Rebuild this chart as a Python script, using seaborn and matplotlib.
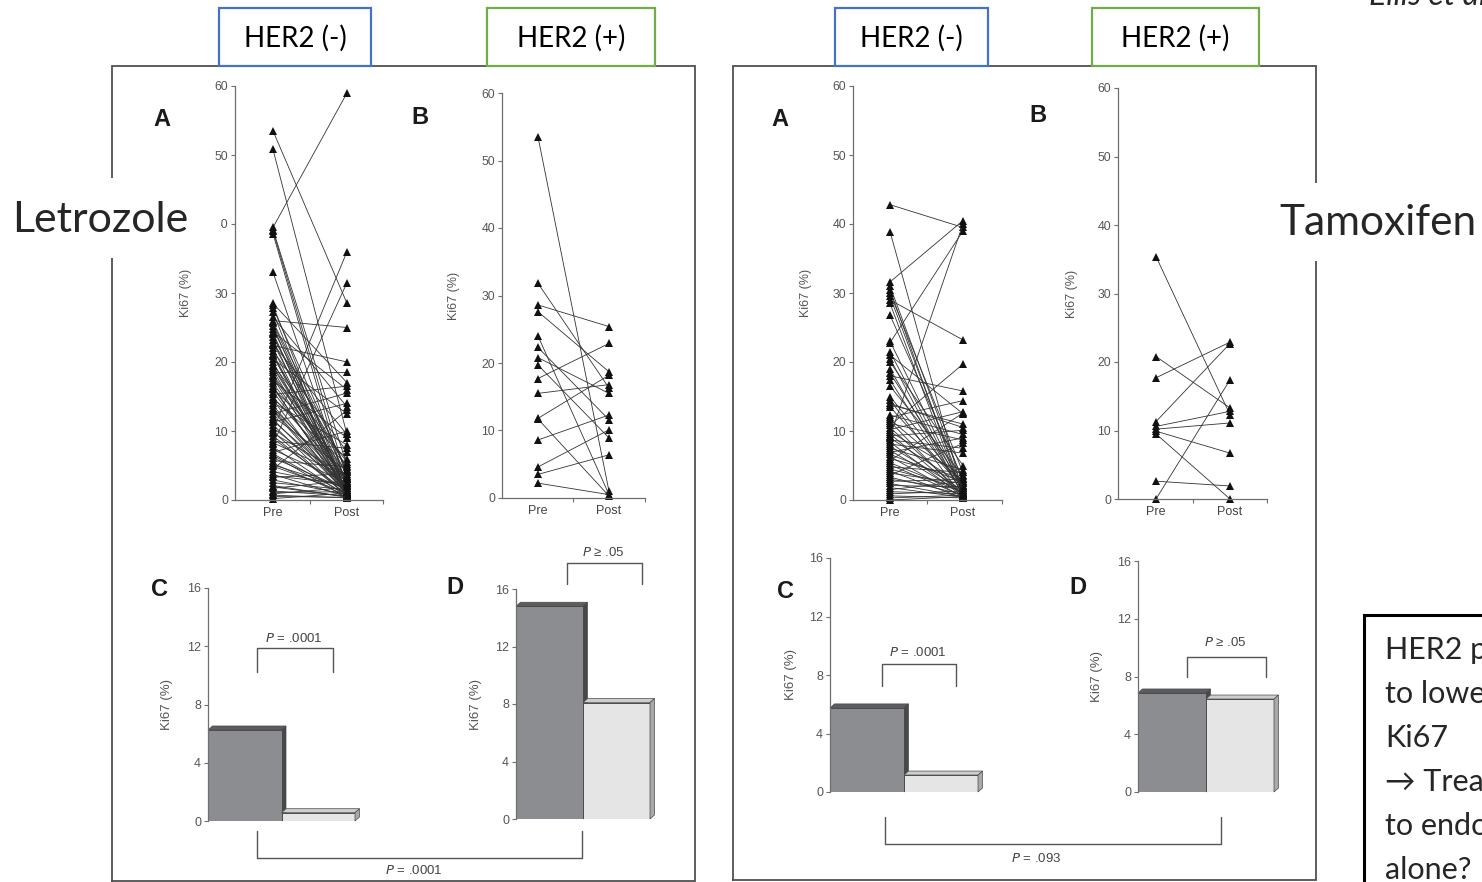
import numpy as np
import pandas as pd
import matplotlib
matplotlib.use('Agg')
import matplotlib.pyplot as plt
import seaborn as sns
from matplotlib.patches import Rectangle, Polygon

# ---------------- data ----------------
time_labels = ['Pre', 'Post']

let_neg_pre = [53.5, 50.8, 39.5, 39.2, 39.0, 38.6, 33.0, 28.5, 28.2, 27.8, 27.2, 26.5, 26.0, 25.6,
               25.2, 24.8, 24.4, 24.0, 23.6, 23.2, 22.8, 22.4, 22.0, 21.6, 21.2, 20.8, 20.4, 20.0,
               19.6, 19.2, 18.8, 18.5, 18.1, 17.7, 17.3, 16.9, 16.5, 16.1, 15.7, 15.3, 14.9, 14.5,
               14.1, 13.7, 13.3, 12.9, 12.5, 12.1, 11.7, 11.3, 10.9, 10.5, 10.1, 9.7, 9.3, 8.9,
               8.5, 8.1, 7.7, 7.3, 6.9, 6.5, 6.1, 5.7, 5.3, 4.9, 4.5, 4.1, 3.7, 3.3, 2.9, 2.5,
               2.1, 1.7, 1.3, 0.9, 0.5, 0.2,
               25.8, 24.2, 22.6, 21.0, 19.4, 17.9, 16.3, 14.7, 13.1, 11.5, 9.9, 8.3, 6.7, 5.1,
               3.5, 1.9, 1.1, 0.7]
let_neg_post = [28.5, 9.5, 59.0, 5.0, 3.0, 1.5, 2.0, 17.0, 1.0, 4.0, 0.5, 13.5, 25.0, 2.5,
                0.8, 3.5, 16.0, 1.2, 4.5, 0.6, 2.0, 20.0, 0.4, 7.0, 1.5, 3.0, 12.5, 0.9,
                5.5, 2.2, 0.7, 18.5, 4.0, 1.0, 9.0, 2.8, 0.5, 6.0, 1.8, 16.5, 3.2, 0.6,
                8.0, 1.4, 2.5, 0.8, 15.5, 4.2, 1.0, 14.0, 0.5, 2.0, 36.0, 3.5, 0.7, 1.2,
                7.5, 31.5, 0.5, 2.5, 10.0, 0.3, 1.5, 4.8, 0.6, 1.0, 13.0, 2.0, 0.5, 3.8, 0.8, 1.5,
                0.4, 2.8, 0.6, 1.8, 0.4, 1.0,
                4.4, 1.1, 9.5, 0.3, 2.6, 3.1, 0.9, 5.2, 1.3, 2.1, 0.6, 3.4, 0.8, 1.7,
                2.3, 0.5, 1.2, 0.3]

let_pos_pre = [53.5, 31.8, 28.6, 27.6, 24.0, 22.3, 20.8, 19.7, 17.7, 15.5, 11.8, 11.7, 8.6, 4.6, 3.5, 2.2]
let_pos_post = [1.0, 16.3, 25.4, 18.7, 0.5, 11.6, 15.5, 8.9, 22.9, 16.8, 18.2, 0.3, 12.3, 10.1, 6.4, 0.5]

tam_neg_pre = [42.8, 38.9, 31.6, 31.0, 30.5, 30.0, 29.5, 29.0, 28.5, 26.8, 22.8, 21.5, 21.0, 20.5,
               20.0, 18.4, 18.0, 17.4, 16.5, 14.5, 14.0, 13.5, 12.0, 11.7, 11.4, 11.1, 10.8, 10.5,
               10.2, 9.9, 9.6, 9.3, 9.0, 8.7, 8.4, 8.1, 7.8, 7.5, 7.2, 6.9, 6.6, 6.3, 6.0, 5.7,
               5.4, 5.1, 4.8, 4.5, 4.2, 3.9, 3.6, 3.3, 3.0, 2.7, 2.4, 2.1, 1.8, 1.5, 1.2, 0.9,
               0.6, 0.3, 0.0, 9.2, 13.8, 12.3, 15.0, 19.0, 23.0]
tam_neg_post = [39.5, 1.0, 40.5, 2.5, 0.8, 4.0, 1.5, 23.2, 0.5, 3.0, 39.0, 1.2, 12.5, 0.6,
                5.0, 2.0, 15.8, 0.9, 3.5, 0.4, 10.5, 1.8, 14.4, 2.8, 0.5, 8.7, 19.7, 1.0,
                12.8, 3.6, 0.7, 10.1, 2.2, 7.5, 0.5, 6.8, 1.4, 4.4, 0.9, 9.0, 2.6, 0.4, 3.2, 12.6,
                1.1, 0.6, 4.0, 1.7, 0.3, 2.4, 8.2, 0.8, 1.5, 3.0, 0.5, 1.9, 0.4, 2.7, 0.9, 1.3,
                0.3, 0.7, 0.5, 40.0, 11.0, 9.5, 2.0, 0.8, 1.5]

tam_pos_pre = [35.4, 20.8, 17.7, 11.3, 10.6, 9.9, 9.5, 10.2, 2.6, 0.0]
tam_pos_post = [12.3, 13.3, 22.9, 22.7, 12.8, 6.7, 0.0, 11.1, 1.9, 17.4]

bar_let_neg = [6.25, 0.57]
bar_let_pos = [14.8, 8.1]
bar_tam_neg = [5.75, 1.16]
bar_tam_pos = [6.86, 6.44]

# ---------------- setup ----------------
W, H = 1482, 882
sns.set_style('ticks')
plt.rcParams['font.family'] = ['Liberation Sans', 'DejaVu Sans']
SLIDE_FONT = ['Lato', 'DejaVu Sans']
AX_GRAY = '#6f6f6f'
TXT_GRAY = '#555555'

fig = plt.figure(figsize=(W / 100, H / 100), dpi=100)
fig.patch.set_facecolor('white')


def px_axes(x0, ytop, x1, ybot):
    ax = fig.add_axes([x0 / W, 1 - ybot / H, (x1 - x0) / W, (ybot - ytop) / H])
    ax.patch.set_alpha(0)
    return ax


def pair_panel(pre, post, x0, ytop, x1, ybot, pre_px, post_px, lab_off):
    ax = px_axes(x0, ytop, x1, ybot)
    n = len(pre)
    df = pd.DataFrame({
        'pid': np.repeat(np.arange(n), 2),
        'time': np.tile([0, 1], n),
        'ki67': np.ravel(np.column_stack([pre, post])),
    })
    sns.lineplot(data=df, x='time', y='ki67', units='pid', estimator=None,
                 color='#333333', lw=0.6, marker='^', markersize=5.6,
                 markeredgewidth=0, markerfacecolor='#111111', ax=ax, legend=False)
    for ln in ax.lines:
        ln.set_clip_on(False)
    unit = post_px - pre_px
    ax.set_xlim(-(pre_px - x0) / unit, (x1 - pre_px) / unit)
    ax.set_ylim(0, 60)
    sns.despine(ax=ax)
    for s in ['left', 'bottom']:
        ax.spines[s].set_color(AX_GRAY)
        ax.spines[s].set_linewidth(0.9)
    ax.set_yticks(range(0, 61, 10))
    ax.tick_params(axis='y', length=3, width=0.8, color=AX_GRAY, labelsize=8.8,
                   labelcolor=TXT_GRAY, pad=2)
    ax.set_xticks([0, 1])
    ax.set_xticklabels(time_labels)
    ax.tick_params(axis='x', length=0, labelsize=9, labelcolor='#444444', pad=5)
    xr = ax.get_xlim()[1]
    ax.set_xticks([0.5, xr - 0.005], minor=True)
    ax.tick_params(axis='x', which='minor', length=3, width=0.8, color=AX_GRAY)
    ax.set_xlabel('')
    ax.set_ylabel('Ki67 (%)', fontsize=9, color=TXT_GRAY)
    ax.yaxis.set_label_coords(-lab_off / (x1 - x0), 0.5)
    return ax


def bar_panel(vals, x0, ytop, ybot, unit_px, lab_off):
    x1 = x0 + 2.2 * unit_px
    ax = px_axes(x0, ytop, x1, ybot)
    df = pd.DataFrame({'time': time_labels, 'ki67': vals})
    sns.barplot(data=df, x='time', y='ki67', hue='time', palette=['#8c8d91', '#e5e5e5'],
                width=1.0, edgecolor='#4a4a4a', linewidth=0.7, saturation=1,
                ax=ax, legend=False)
    ax.set_xlim(-0.5, 1.7)
    ax.set_ylim(0, 16)
    bars = list(ax.patches)[:2]
    dx = 4.5 / unit_px
    dy = 4.0 * 16 / (ybot - ytop)
    styles = [('#5d5d61', '#48484c', 1.5), ('#cdcdcd', '#a9a9a9', 2.5)]
    for p, (top_c, side_c, z) in zip(bars, styles):
        p.set_zorder(2)
        x, y, w, h = p.get_x(), p.get_y(), p.get_width(), p.get_height()
        ax.add_patch(Polygon([(x, y + h), (x + dx, y + h + dy), (x + w + dx, y + h + dy), (x + w, y + h)],
                             closed=True, fc=top_c, ec='#4a4a4a', lw=0.5, zorder=z, clip_on=False))
        ax.add_patch(Polygon([(x + w, y), (x + w + dx, y + dy), (x + w + dx, y + h + dy), (x + w, y + h)],
                             closed=True, fc=side_c, ec='#4a4a4a', lw=0.5, zorder=z, clip_on=False))
    sns.despine(ax=ax, bottom=True)
    ax.spines['left'].set_color(AX_GRAY)
    ax.spines['left'].set_linewidth(0.9)
    ax.set_yticks([0, 4, 8, 12, 16])
    ax.tick_params(axis='y', length=3, width=0.8, color=AX_GRAY, labelsize=9,
                   labelcolor=TXT_GRAY, pad=2)
    ax.set_xticks([])
    ax.set_xlabel('')
    ax.set_ylabel('Ki67 (%)', fontsize=9.5, color=TXT_GRAY)
    ax.yaxis.set_label_coords(-lab_off / (x1 - x0), 0.5)
    return ax


# Pre/post line panels
pair_panel(let_neg_pre, let_neg_post, 235, 86, 383, 500, 273, 347, 43)
pair_panel(let_pos_pre, let_pos_post, 502, 93, 645, 498, 538, 609, 42)
pair_panel(tam_neg_pre, tam_neg_post, 853, 86, 1002, 500, 890, 963, 41)
pair_panel(tam_pos_pre, tam_pos_post, 1118, 88, 1267, 499, 1156, 1230, 40)

# Mean bar panels
bar_panel(bar_let_neg, 208, 588, 821, 73.5, 35)
bar_panel(bar_let_pos, 516, 589, 819, 67.0, 34)
bar_panel(bar_tam_neg, 830, 558, 792, 74.0, 33)
bar_panel(bar_tam_pos, 1138, 561, 792, 68.0, 35)

# ---------------- overlay (slide elements) ----------------
ov = fig.add_axes([0, 0, 1, 1], zorder=10)
ov.set_xlim(0, W)
ov.set_ylim(H, 0)
ov.axis('off')
ov.patch.set_alpha(0)

FR = '#505050'
ov.plot([112, 112, 695, 695, 112], [881, 66, 66, 881, 881], color=FR, lw=1.3, solid_joinstyle='miter')
ov.plot([733, 733, 1316, 1316, 733], [880, 66, 66, 880, 880], color=FR, lw=1.3, solid_joinstyle='miter')

for (bx, bw, col, txt) in [(219, 152, '#4472c4', 'HER2 (-)'), (487, 168, '#70ad47', 'HER2 (+)'),
                           (835, 153, '#4472c4', 'HER2 (-)'), (1092, 167, '#70ad47', 'HER2 (+)')]:
    ov.add_patch(Rectangle((bx, 8), bw, 58, fc='white', ec=col, lw=1.6, zorder=3))
    ov.text(bx + bw / 2, 38, txt, ha='center', va='center', fontsize=20,
            family=SLIDE_FONT, color='black', zorder=4)

ov.add_patch(Rectangle((0, 178), 221, 80, fc='white', ec='none', zorder=3))
ov.text(12, 220, 'Letrozole', ha='left', va='center', fontsize=31, family=SLIDE_FONT, zorder=4)
ov.add_patch(Rectangle((1272, 183), 215, 78, fc='white', ec='none', zorder=3))
ov.text(1279, 223, 'Tamoxifen', ha='left', va='center', fontsize=30.5, family=SLIDE_FONT, zorder=4)

ov.text(1369, 5, 'Ellis et al.', ha='left', va='baseline', fontsize=23, style='italic',
        family=SLIDE_FONT, zorder=4)

ov.add_patch(Rectangle((1364, 615), 140, 300, fc='white', ec='black', lw=2.2, zorder=3))
box_lines = ['HER2 positive tumors less likely', 'to lower their', 'Ki67',
             '\u2192 Treatment in addition', 'to endocrine therapy', 'alone?']
for i, t in enumerate(box_lines):
    ov.text(1385, 650 + i * 44, t, ha='left', va='center', fontsize=22,
            family=SLIDE_FONT, zorder=4)

for (lx, ly, l) in [(162, 120, 'A'), (420, 118, 'B'), (160, 590, 'C'), (455, 588, 'D'),
                    (780, 120, 'A'), (1038, 115, 'B'), (785, 592, 'C'), (1078, 588, 'D')]:
    ov.text(lx, ly, l, ha='center', va='center', fontsize=17, fontweight='bold', color='#1a1a1a')

BR = '#555555'


def bracket(xa, xb, ytop, ybot, up=True):
    if up:
        ov.plot([xa, xa, xb, xb], [ybot, ytop, ytop, ybot], color=BR, lw=1.0)
    else:
        ov.plot([xa, xa, xb, xb], [ytop, ybot, ybot, ytop], color=BR, lw=1.0)


def ptext(x, y, op, val):
    ov.text(x, y, r'$\it{P}$' + f' {op} {val}', ha='center', va='center', fontsize=9.5, color='#444444')


bracket(257, 333, 648, 672)
ptext(294, 638, '=', '.0001')
bracket(567, 642, 563, 584)
ptext(603, 553, '\u2265', '.05')
bracket(257, 582, 831, 858, up=False)
ptext(414, 870, '=', '.0001')

bracket(882, 956, 664, 686)
ptext(918, 652, '=', '.0001')
bracket(1187, 1266, 657, 677)
ptext(1225, 643, '\u2265', '.05')
bracket(885, 1221, 817, 844, up=False)
ptext(1036, 858, '=', '.093')

fig.savefig('out.png', dpi=100)
